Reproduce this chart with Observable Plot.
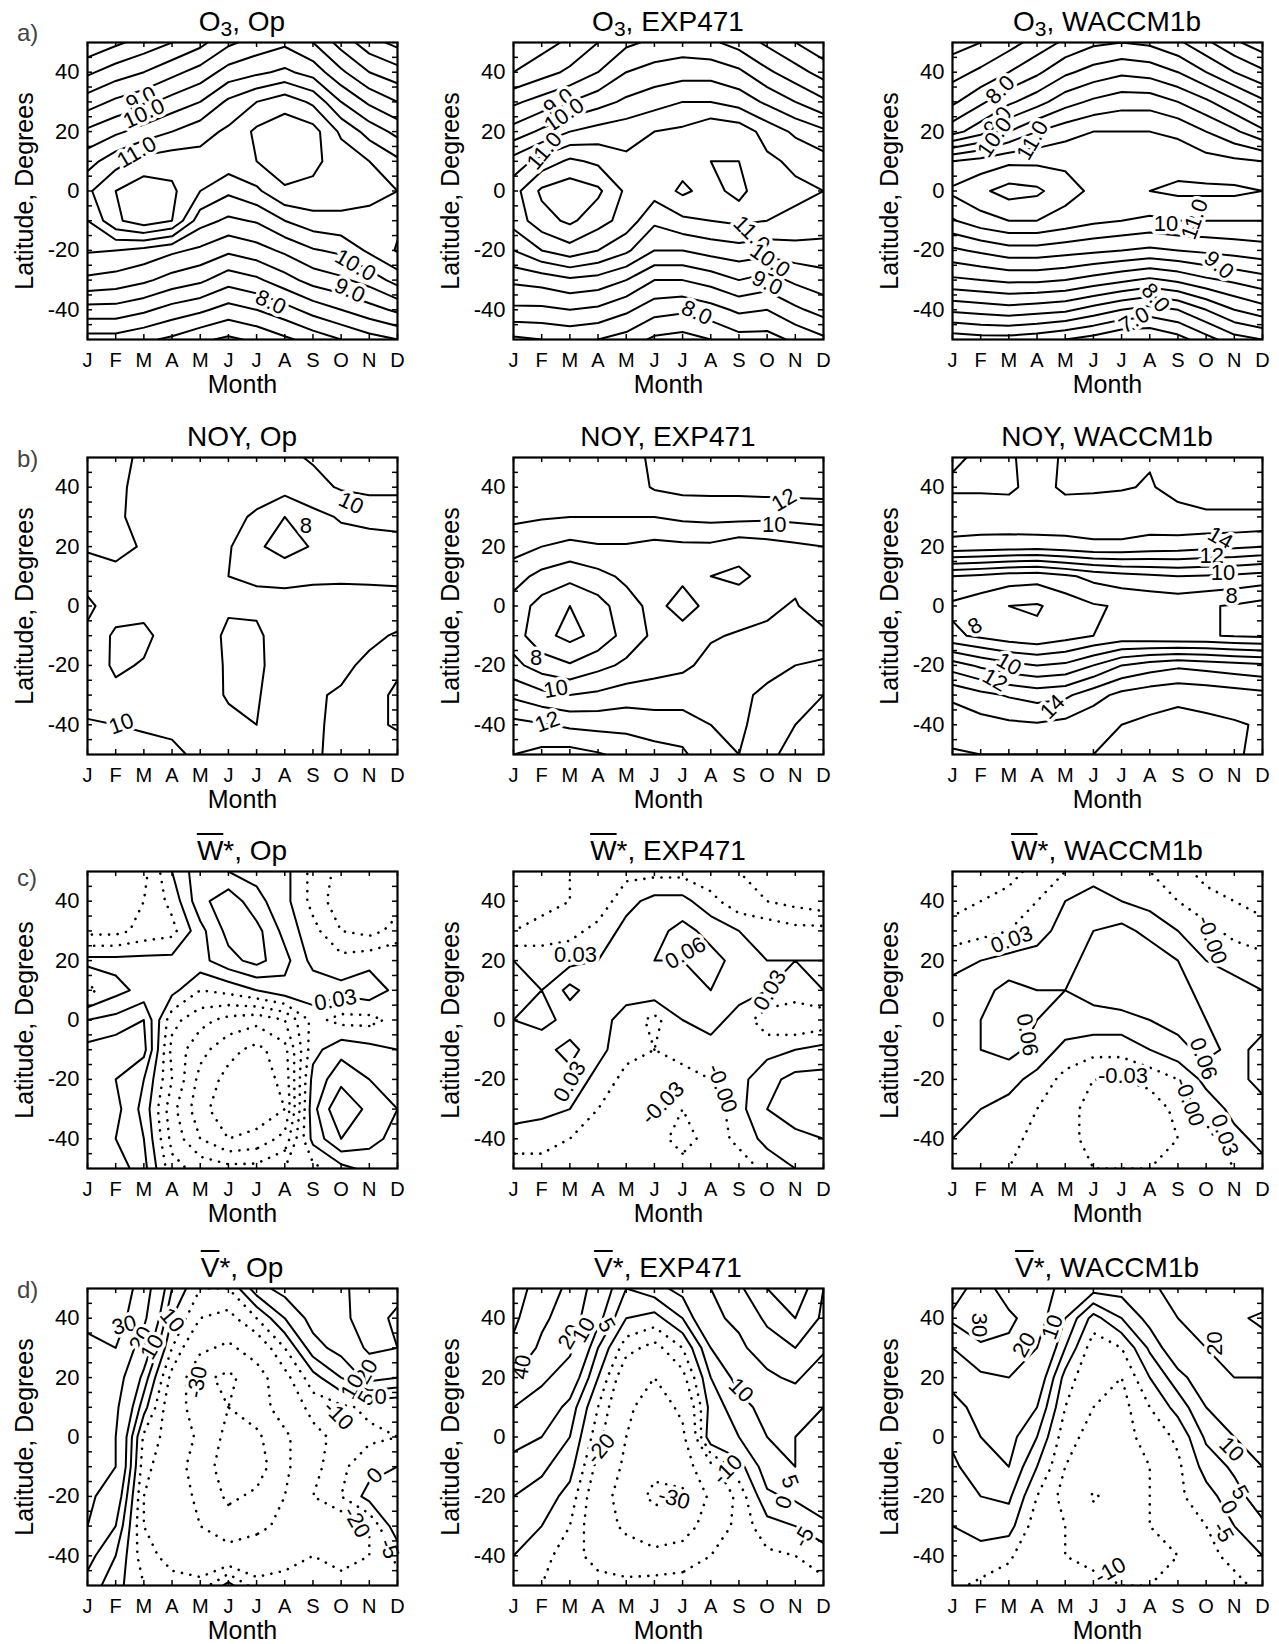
<!DOCTYPE html>
<html><head><meta charset="utf-8">
<script src="https://cdn.jsdelivr.net/npm/d3@7"></script>
<script src="https://cdn.jsdelivr.net/npm/@observablehq/plot@0.6"></script>
<style>
body{margin:0;background:#fff;}
#root{position:relative;width:1279px;height:1644px;font-family:"Liberation Sans",Arial,Helvetica,sans-serif;color:#000;overflow:hidden;}
.ttl{position:absolute;width:310px;height:36px;line-height:36px;text-align:center;font-size:28px;white-space:nowrap;}
.ttl sub{font-size:0.75em;vertical-align:-0.25em;line-height:0;}
.ov{text-decoration:overline;text-decoration-thickness:2px;}
.row{position:absolute;font-size:24px;color:#444;line-height:24px;}
svg{position:absolute;overflow:visible;}
</style></head><body><div id="root"></div>
<script>
// ---------- axes ----------
const monthLetters = ["J","F","M","A","M","J","J","A","S","O","N","D"];
const monthNums = [1,2,3,4,5,6,7,8,9,10,11,12];
const latLabels = [-40,-20,0,20,40];
const latTicks5 = [-45,-40,-35,-30,-25,-20,-15,-10,-5,0,5,10,15,20,25,30,35,40,45];
const latRows = [50,40,30,20,10,0,-10,-20,-30,-40,-50];

// ---------- contour levels ----------
const o3Levels = [5,5.5,6,6.5,7,7.5,8,8.5,9,9.5,10,10.5,11,11.5,12,12.5,13];
const noyLevels = [5,6,7,8,9,10,11,12,13,14,15,16,17];
const wNeg = [-0.21,-0.18,-0.15,-0.12,-0.09,-0.06,-0.03,0];
const wPos = [0.03,0.06,0.09,0.12,0.15,0.18,0.21];
const vNeg = [-50,-40,-30,-20,-10,-5];
const vPos = [0,5,10,20,30,40,50];

// ---------- data: one list per month (J..D), values at lat 50,40,...,-50 ----------
const o3Op = [
 [7.1,7.9,8.75,9.6,10.3,10.9,10.5,10.05,9.4,8.3,7.3],
 [7.4,8.25,9.1,9.9,10.8,11.5,11.4,10.0,9.3,8.3,7.3],
 [7.7,8.5,9.35,10.2,11.2,11.8,11.8,9.85,9.1,8.1,7.1],
 [8.0,8.85,9.7,10.5,11.3,11.6,11.5,9.6,8.8,7.8,6.9],
 [8.35,9.2,10.0,10.8,11.2,11.0,10.2,9.4,8.6,7.6,6.6],
 [8.9,9.7,10.6,11.1,11.3,10.6,9.9,9.1,8.2,7.3,6.4],
 [9.2,9.9,11.0,11.6,11.5,10.9,10.05,9.3,8.4,7.5,6.6],
 [9.4,10.1,11.3,11.8,11.7,11.45,10.5,9.6,8.8,7.8,6.9],
 [9.0,9.8,10.9,11.7,11.6,11.4,10.8,9.95,9.2,8.2,7.2],
 [8.3,9.1,10.0,10.9,11.3,11.2,10.9,10.1,9.4,8.5,7.5],
 [7.7,8.5,9.4,10.3,11.0,11.05,10.95,10.6,9.7,8.8,7.8],
 [7.35,8.2,9.0,9.85,10.6,11.0,10.9,11.05,10.2,9.1,8.0]
];
const o3Exp = [
 [7.6,8.0,8.9,9.7,10.7,11.3,11.2,10.5,9.6,8.9,7.9],
 [7.8,8.3,9.2,10.1,11.2,12.1,11.8,11.0,9.7,8.9,8.0],
 [8.1,8.6,9.5,10.5,11.6,12.3,12.1,11.3,9.9,9.0,8.1],
 [8.5,9.0,9.8,10.7,11.4,12.1,11.7,11.0,9.8,8.9,8.0],
 [8.9,9.5,10.1,10.8,11.1,11.4,11.3,10.6,9.5,8.6,7.8],
 [9.1,9.7,10.3,11.0,11.3,11.2,10.6,10.0,9.0,8.2,7.4],
 [9.2,9.8,10.5,11.1,11.3,11.6,10.9,10.0,9.0,8.1,7.3],
 [9.1,9.8,10.5,11.4,11.5,11.3,11.0,10.2,9.2,8.3,7.5],
 [8.8,9.6,10.3,11.3,11.5,11.7,11.1,10.3,9.5,8.6,7.8],
 [8.4,9.1,9.9,10.8,11.1,11.0,11.0,10.2,9.3,8.5,7.8],
 [8.0,8.7,9.5,10.4,10.9,11.1,10.9,10.3,9.6,8.9,8.1],
 [7.6,8.3,9.1,10.1,10.7,11.0,10.8,10.3,9.8,9.2,8.4]
];
const o3Waccm = [
 [6.8,7.3,7.9,8.8,11.0,11.6,10.95,9.9,8.9,7.6,6.2],
 [7.0,7.6,8.4,9.3,11.2,11.9,11.3,10.1,9.0,7.7,6.3],
 [7.3,8.0,8.9,10.0,11.4,12.2,11.5,10.3,9.1,7.8,6.3],
 [7.7,8.4,9.3,10.5,11.4,12.1,11.5,10.3,9.1,7.7,6.2],
 [8.1,8.9,9.8,10.8,11.4,11.7,11.3,10.2,9.0,7.6,6.0],
 [8.4,9.2,10.1,11.0,11.3,11.4,11.1,10.1,8.8,7.3,5.8],
 [8.5,9.4,10.3,11.0,11.3,11.4,11.0,10.0,8.6,7.0,5.5],
 [8.4,9.3,10.3,11.0,11.3,11.5,10.9,9.9,8.4,6.8,5.5],
 [8.1,9.0,10.0,10.9,11.3,11.6,11.0,10.0,8.6,7.0,5.8],
 [7.6,8.5,9.6,10.5,11.2,11.6,11.0,10.1,8.9,7.5,6.3],
 [7.1,8.0,9.1,10.1,11.1,11.6,11.0,10.2,9.1,8.0,6.8],
 [6.7,7.6,8.6,9.6,11.0,11.5,11.0,10.3,9.3,8.3,7.0]
];
const noyOp = [
 [10.6,10.4,10.2,10.1,9.6,10.2,9.8,9.7,9.6,10.1,10.6],
 [10.3,10.2,10.1,10.3,9.7,9.5,8.8,8.8,9.3,10.0,10.4],
 [9.8,9.7,9.8,9.9,9.6,9.4,8.7,9.1,9.6,9.9,10.3],
 [9.6,9.5,9.5,9.6,9.5,9.6,9.6,9.7,9.8,9.9,10.1],
 [9.6,9.5,9.4,9.5,9.3,9.7,9.8,9.8,9.9,9.9,9.9],
 [9.6,9.4,9.2,9.1,9.0,9.2,8.7,8.8,8.8,9.5,9.7],
 [9.7,9.3,8.9,8.2,8.9,9.2,8.8,8.8,8.9,9.0,9.6],
 [9.8,9.4,8.0,7.5,8.8,9.3,9.6,9.5,9.6,9.7,9.8],
 [10.1,9.7,8.7,8.1,8.8,9.5,9.8,9.7,9.9,9.8,9.9],
 [10.5,10.1,9.1,8.6,8.8,9.6,9.7,9.8,10.1,10.3,10.2],
 [10.7,10.3,9.2,8.7,8.8,9.5,9.8,10.2,10.6,10.8,10.4],
 [10.8,10.3,9.2,8.8,8.8,9.4,10.1,10.8,11.2,11.1,10.6]
];
const noyExp = [
 [11.6,11.5,11.2,10.4,9.4,8.6,8.5,9.3,10.8,12.3,13.0],
 [11.6,11.5,11.1,10.0,8.7,7.6,7.3,8.5,10.3,12.1,13.3],
 [11.6,11.4,11.0,9.7,8.3,7.0,6.7,8.1,10.0,11.8,13.4],
 [11.6,11.4,11.0,9.9,8.7,7.6,7.3,8.7,10.2,11.7,13.1],
 [11.6,11.5,11.0,9.9,9.2,8.6,8.4,9.2,10.5,11.7,12.7],
 [12.2,12.1,11.0,9.7,9.6,9.3,9.2,9.6,10.5,11.5,12.4],
 [12.4,12.3,11.2,9.8,9.2,8.6,9.4,9.8,10.6,11.4,12.2],
 [12.4,12.3,11.3,9.8,9.0,9.3,9.9,10.3,10.9,11.0,11.2],
 [12.4,12.3,11.3,9.4,8.8,9.5,10.1,10.5,10.8,10.8,11.0],
 [12.5,12.4,11.2,9.6,9.3,9.8,10.2,10.7,11.2,11.5,11.8],
 [12.5,12.4,11.3,9.8,9.7,10.1,10.4,11.0,11.7,12.0,12.3],
 [12.5,12.4,11.4,10.0,9.9,9.3,10.3,11.2,12.0,12.3,12.4]
];
const noyWaccm = [
 [14.9,15.1,14.6,13.7,9.0,7.8,8.2,11.5,13.8,14.6,15.1],
 [15.1,15.1,14.6,13.6,8.8,7.4,7.8,10.8,13.3,14.4,15.0],
 [15.1,15.1,14.7,13.5,8.5,7.0,7.4,10.3,12.9,14.2,15.0],
 [14.7,14.8,14.9,13.4,8.4,6.9,7.2,10.0,12.6,14.1,15.0],
 [15.1,15.1,14.7,13.6,8.8,7.4,7.6,10.2,12.8,14.3,15.0],
 [15.2,15.1,14.6,13.8,9.3,7.9,8.0,11.0,13.6,14.7,15.0],
 [15.1,15.05,14.6,13.8,9.6,8.1,8.3,12.0,14.3,15.0,15.1],
 [15.05,14.95,14.6,13.6,9.8,8.2,8.2,12.5,14.6,15.2,15.2],
 [15.3,15.2,14.8,13.5,10.0,8.3,8.1,12.8,14.8,15.3,15.2],
 [15.4,15.3,14.9,13.3,9.9,8.1,8.1,12.6,14.7,15.2,15.1],
 [15.4,15.3,14.9,13.2,9.8,7.9,7.9,12.4,14.5,15.1,15.1],
 [15.4,15.3,14.9,13.0,9.6,7.6,7.8,12.2,14.3,14.9,14.8]
];
const wOp = [
 [-0.05,-0.06,-0.04,0.04,-0.01,0.06,0.10,0.12,0.11,0.12,0.10],
 [-0.05,-0.05,-0.04,0.04,0.02,0.07,0.11,0.09,0.10,0.09,0.11],
 [-0.04,-0.03,-0.02,0.04,0.04,0.09,0.10,0.06,0.05,0.06,0.07],
 [0.03,0.01,-0.01,0.04,0.04,-0.02,-0.04,-0.03,-0.05,-0.04,-0.02],
 [0.08,0.08,0.05,0.05,0.00,-0.05,-0.08,-0.10,-0.11,-0.09,-0.04],
 [0.06,0.11,0.10,0.08,0.01,-0.07,-0.11,-0.13,-0.14,-0.12,-0.05],
 [0.05,0.07,0.10,0.10,0.03,-0.08,-0.13,-0.14,-0.14,-0.11,-0.05],
 [0.04,0.04,0.05,0.07,0.05,-0.06,-0.10,-0.11,-0.12,-0.08,-0.03],
 [-0.01,-0.01,0.01,0.02,0.05,0.01,0.02,0.04,0.05,0.04,-0.01],
 [-0.04,-0.05,-0.03,0.01,0.04,-0.01,0.05,0.08,0.12,0.09,0.02],
 [-0.04,-0.05,-0.04,0.02,0.05,-0.01,0.04,0.06,0.08,0.07,0.04],
 [-0.03,-0.04,-0.02,0.03,0.02,0.01,0.03,0.05,0.06,0.05,0.04]
];
const wExp = [
 [-0.04,-0.05,-0.03,0.03,0.04,0.03,0.05,0.04,0.05,0.01,-0.01],
 [-0.04,-0.04,-0.02,0.02,0.03,0.02,0.05,0.06,0.04,0.01,-0.01],
 [-0.03,-0.03,-0.01,0.02,0.07,0.04,0.07,0.05,0.03,0.00,-0.02],
 [-0.03,-0.02,0.01,0.03,0.04,0.04,0.04,0.02,0.00,-0.02,-0.02],
 [-0.01,0.02,0.04,0.05,0.04,0.02,0.01,-0.01,-0.02,-0.02,-0.01],
 [-0.01,0.04,0.05,0.06,0.05,-0.01,0.00,-0.02,-0.03,-0.02,-0.01],
 [-0.01,0.04,0.07,0.06,0.04,0.03,0.02,-0.02,-0.03,-0.04,-0.02],
 [-0.02,0.01,0.05,0.07,0.06,0.04,0.02,0.00,-0.02,-0.02,-0.01],
 [-0.03,-0.02,0.03,0.05,0.04,0.02,0.03,0.02,0.02,0.01,-0.02],
 [-0.04,-0.03,0.02,0.03,0.03,-0.02,0.02,0.05,0.06,0.04,0.01],
 [-0.04,-0.04,0.01,0.03,0.02,-0.03,0.03,0.07,0.08,0.05,0.03],
 [-0.04,-0.05,0.01,0.03,0.03,-0.02,0.04,0.07,0.09,0.06,0.04]
];
const wWaccm = [
 [-0.06,-0.04,-0.02,0.02,0.04,0.05,0.05,0.05,0.04,0.03,0.02],
 [-0.05,-0.03,-0.01,0.03,0.05,0.06,0.06,0.05,0.03,0.02,0.01],
 [-0.04,-0.02,0.00,0.04,0.07,0.07,0.07,0.04,0.02,0.01,0.00],
 [-0.02,0.00,0.02,0.04,0.06,0.06,0.05,0.02,0.00,-0.01,-0.01],
 [0.00,0.03,0.04,0.05,0.06,0.05,0.02,-0.01,-0.02,-0.02,-0.02],
 [0.02,0.04,0.06,0.07,0.07,0.05,0.01,-0.03,-0.04,-0.04,-0.03],
 [0.01,0.03,0.07,0.08,0.08,0.05,0.01,-0.03,-0.06,-0.05,-0.03],
 [0.00,0.02,0.05,0.08,0.08,0.06,0.03,-0.02,-0.05,-0.04,-0.03],
 [-0.02,0.00,0.03,0.06,0.07,0.07,0.05,0.00,-0.02,-0.03,-0.02],
 [-0.04,-0.02,0.01,0.03,0.05,0.06,0.07,0.04,0.01,-0.01,-0.02],
 [-0.05,-0.03,-0.01,0.02,0.04,0.05,0.05,0.05,0.04,0.02,0.00],
 [-0.06,-0.04,-0.02,0.01,0.03,0.05,0.07,0.07,0.05,0.04,0.02]
];
const vOp = [
 [35,32,28,25,22,24,26,22,20,12,8],
 [38,35,30,25,22,20,20,15,10,5,2],
 [25,22,15,8,2,-6,-8,-10,-10,-8,-5],
 [5,0,-5,-12,-15,-13,-15,-15,-15,-12,-8],
 [-5,-10,-18,-28,-25,-22,-25,-22,-20,-15,-8],
 [-5,-12,-22,-32,-30,-33,-35,-32,-25,-16,2],
 [8,-5,-15,-25,-25,-32,-35,-28,-22,-15,-8],
 [12,5,-5,-12,-15,-22,-22,-20,-18,-12,-8],
 [15,12,8,-2,-8,-12,-12,-10,-14,-10,-8],
 [18,15,12,5,-6,-8,-6,-5,-15,-12,-8],
 [25,30,22,12,-4,-6,-2,2,-10,-10,-6],
 [28,15,20,10,-5,-5,0,5,4,-4,-6]
];
const vExp = [
 [45,42,38,30,20,12,8,5,3,0,-3],
 [35,32,28,22,15,10,6,3,0,-3,-5],
 [28,25,22,15,8,5,2,-2,-5,-8,-8],
 [15,12,5,0,-5,-8,-12,-15,-15,-12,-8],
 [5,0,-8,-15,-18,-20,-22,-25,-22,-15,-8],
 [8,-2,-12,-20,-25,-25,-28,-32,-25,-18,-6],
 [12,5,-5,-12,-18,-22,-25,-32,-25,-15,-6],
 [20,18,10,5,2,4,-12,-18,-15,-10,-6],
 [28,22,18,12,8,5,-2,-8,-8,-8,-5],
 [40,32,25,18,12,10,8,4,-2,-6,-8],
 [48,40,30,22,12,10,10,6,0,-5,-6],
 [30,28,22,12,10,8,8,8,4,-3,-6]
];
const vWaccm = [
 [25,32,20,12,8,6,4,2,0,-2,-4],
 [35,38,28,18,12,10,8,5,2,-2,-6],
 [25,32,28,20,15,12,10,6,2,-4,-8],
 [28,25,20,15,10,5,0,-5,-8,-10,-10],
 [15,10,5,-2,-5,-8,-10,-12,-10,-10,-8],
 [12,-2,-8,-10,-10,-12,-14,-21,-15,-12,-8],
 [12,5,-5,-10,-12,-12,-14,-16,-15,-12,-10],
 [18,12,6,0,-5,-8,-10,-10,-10,-12,-10],
 [24,20,15,8,2,-4,-6,-6,-8,-10,-8],
 [28,25,20,14,10,6,2,-2,-5,-6,-8],
 [25,28,24,20,14,10,6,3,0,-4,-6],
 [22,32,26,20,16,10,10,8,4,0,-4]
];

// ---------- contour labels: [month, latitude, text, rotation] ----------
const o3OpLabels = [[2.9,31,"9.0",-25],[3.0,26,"10.0",-25],[2.75,13,"11.0",-30],[10.5,-25,"10.0",30],[10.3,-33.5,"9.0",25],[7.5,-37.5,"8.0",25]];
const o3ExpLabels = [[2.6,30,"9.0",-35],[2.8,25.5,"10.0",-35],[2.1,13.5,"11.0",-50],[9.45,-14.5,"11.0",45],[10.1,-23.4,"10.0",35],[10.0,-31,"9.0",25],[7.5,-41,"8.0",25]];
const o3WaccmLabels = [[2.7,34,"8.0",-45],[2.6,23.5,"9.0",-50],[2.5,18,"10.0",-55],[3.85,17,"11.0",-60],[8.9,-11,"10.0",0],[9.6,-9.5,"11.0",-70],[10.45,-25,"9.0",40],[8.2,-36,"8.0",50],[7.45,-43.5,"7.0",-30]];
const noyOpLabels = [[10.35,34.6,"10",25],[8.75,27,"8",0],[2.2,-39.7,"10",-20]];
const noyExpLabels = [[10.6,35.7,"12",-30],[10.25,27.3,"10",0],[1.8,-17.4,"8",0],[2.5,-28,"10",-10],[2.2,-39,"12",-20]];
const noyWaccmLabels = [[10.5,22.8,"14",30],[10.2,16.7,"12",0],[10.6,11,"10",0],[10.9,3.3,"8",0],[1.8,-6.8,"8",-30],[3.0,-19.6,"10",30],[2.5,-25,"12",30],[4.55,-34,"14",-45]];
const wOpLabels = [[9.8,6.7,"0.03",-10]];
const wExpLabels = [[3.2,21.9,"0.03",0],[7.1,22.5,"0.06",-30],[10.1,10,"0.03",-60],[3.0,-20.8,"0.03",-60],[6.3,-28,"-0.03",-45],[8.4,-23,"-0.00",70]];
const wWaccmLabels = [[3.1,27,"0.03",-20],[10.2,27,"-0.00",70],[3.65,-5,"0.06",80],[7.05,-19,"-0.03",0],[9.9,-13,"0.06",70],[9.4,-27.5,"-0.00",70],[10.65,-38.8,"0.03",70]];
const vOpLabels = [[2.3,37.6,"30",-15],[2.9,33,"20",-60],[3.3,30.3,"10",-60],[4.0,39.3,"10",50],[4.9,18.5,"-30",-80],[9.9,7.3,"-10",45],[11.2,-13,"0",-45],[10.55,-28.7,"-20",60],[11.7,-37.6,"-5",70],[10.9,22,"20",-60],[10.4,17,"10",-60],[10.9,13,"5",-60],[11.4,13.5,"0",0]];
const vExpLabels = [[1.3,23.6,"40",-80],[3.0,33.7,"20",-60],[3.5,36,"10",-60],[4.3,37.6,"5",60],[4.1,-4,"-20",-50],[6.7,-20.8,"-30",15],[9.07,15.7,"10",45],[8.6,-11,"-10",-45],[10.8,-15,"5",70],[10.6,-22,"0",-70],[11.3,-33.7,"-5",-60]];
const vWaccmLabels = [[1.95,37.7,"30",90],[3.55,31,"20",-60],[4.55,37,"10",-70],[10.3,31.5,"20",-90],[10.9,-4.2,"10",45],[11.2,-18.7,"5",60],[10.8,-23.7,"0",60],[10.6,-32,"-5",60],[6.6,-45,"-10",-30]];

// ---------- layout ----------
const colX = [87, 513, 952];
const rowY = [42, 457, 871, 1288];
const rowTags = ["a)","b)","c)","d)"];
const rowTagY = [33, 459, 878, 1290];
const FW = 310, FH = 297, ML = 95, MR = 14, MT = 10, MB = 75;

const panels = [
 {r:0,c:0,t:'O<sub>3</sub>, Op',data:o3Op,labels:o3OpLabels,solid:o3Levels,dotted:[]},
 {r:0,c:1,t:'O<sub>3</sub>, EXP471',data:o3Exp,labels:o3ExpLabels,solid:o3Levels,dotted:[]},
 {r:0,c:2,t:'O<sub>3</sub>, WACCM1b',data:o3Waccm,labels:o3WaccmLabels,solid:o3Levels,dotted:[]},
 {r:1,c:0,t:'NOY, Op',data:noyOp,labels:noyOpLabels,solid:noyLevels,dotted:[]},
 {r:1,c:1,t:'NOY, EXP471',data:noyExp,labels:noyExpLabels,solid:noyLevels,dotted:[]},
 {r:1,c:2,t:'NOY, WACCM1b',data:noyWaccm,labels:noyWaccmLabels,solid:noyLevels,dotted:[]},
 {r:2,c:0,t:'<span class="ov">W</span>*, Op',data:wOp,labels:wOpLabels,solid:wPos,dotted:wNeg},
 {r:2,c:1,t:'<span class="ov">W</span>*, EXP471',data:wExp,labels:wExpLabels,solid:wPos,dotted:wNeg},
 {r:2,c:2,t:'<span class="ov">W</span>*, WACCM1b',data:wWaccm,labels:wWaccmLabels,solid:wPos,dotted:wNeg},
 {r:3,c:0,t:'<span class="ov">V</span>*, Op',data:vOp,labels:vOpLabels,solid:vPos,dotted:vNeg},
 {r:3,c:1,t:'<span class="ov">V</span>*, EXP471',data:vExp,labels:vExpLabels,solid:vPos,dotted:vNeg},
 {r:3,c:2,t:'<span class="ov">V</span>*, WACCM1b',data:vWaccm,labels:vWaccmLabels,solid:vPos,dotted:vNeg}
];

function toGrid(cols){ // row-major, first row = lat 50
  const g = [];
  for (let j = 0; j < latRows.length; j++) for (let i = 0; i < cols.length; i++) g.push(cols[i][j]);
  return g;
}

const root = document.getElementById("root");

rowTags.forEach((t,i)=>{
  const d = document.createElement("div");
  d.className = "row"; d.textContent = t;
  d.style.left = "17px"; d.style.top = (rowTagY[i]-12)+"px";
  root.appendChild(d);
});

for (const p of panels) {
  const g = toGrid(p.data);
  const common = {width:12, height:11, x1:0.5, x2:12.5, y1:55, y2:-55, value: Plot.identity, fill:"none", stroke:"black", clip:true};
  const marks = [];
  marks.push(Plot.contour(g, {...common, thresholds:p.solid, strokeWidth:2, strokeLinejoin:"round"}));
  if (p.dotted.length) marks.push(Plot.contour(g, {...common, thresholds:p.dotted, strokeWidth:2.6, strokeDasharray:"0.1 8.5", strokeLinecap:"round"}));
  marks.push(Plot.text(p.labels, {x:d=>d[0], y:d=>d[1], text:d=>d[2], rotate:d=>d[3], fontSize:22, fill:"black", stroke:"white", strokeWidth:7}));
  marks.push(Plot.tickX(monthNums, {x:d=>d, insetTop:FH-5, strokeWidth:1.5}));
  marks.push(Plot.tickX(monthNums, {x:d=>d, insetBottom:FH-5, strokeWidth:1.5}));
  marks.push(Plot.tickY(latTicks5, {y:d=>d, insetRight:FW-5, strokeWidth:1.5}));
  marks.push(Plot.tickY(latTicks5, {y:d=>d, insetLeft:FW-5, strokeWidth:1.5}));
  marks.push(Plot.frame({strokeWidth:2.2}));
  marks.push(Plot.axisX(monthNums, {tickSize:0, tickPadding:13, tickFormat:d=>monthLetters[d-1], fontSize:20, label:null}));
  marks.push(Plot.axisY(latLabels, {tickSize:0, tickPadding:8, tickFormat:d=>String(d), fontSize:22, label:null}));
  marks.push(Plot.text(["Month"], {frameAnchor:"bottom", dy:45, fontSize:25, lineAnchor:"middle"}));
  marks.push(Plot.text(["Latitude, Degrees"], {frameAnchor:"left", dx:-63, rotate:-90, fontSize:25, textAnchor:"middle", lineAnchor:"middle"}));
  const svg = Plot.plot({
    width: ML+FW+MR, height: MT+FH+MB,
    marginLeft: ML, marginRight: MR, marginTop: MT, marginBottom: MB,
    x: {domain:[1,12], axis:null},
    y: {domain:[-50,50], axis:null},
    style: {fontFamily:'"Liberation Sans", Arial, Helvetica, sans-serif', background:"transparent", color:"black"},
    marks
  });
  svg.style.left = (colX[p.c]-ML)+"px";
  svg.style.top = (rowY[p.r]-MT)+"px";
  root.appendChild(svg);
  const t = document.createElement("div");
  t.className = "ttl"; t.innerHTML = p.t;
  t.style.left = colX[p.c]+"px"; t.style.top = (rowY[p.r]-38)+"px";
  root.appendChild(t);
}
</script></body></html>
